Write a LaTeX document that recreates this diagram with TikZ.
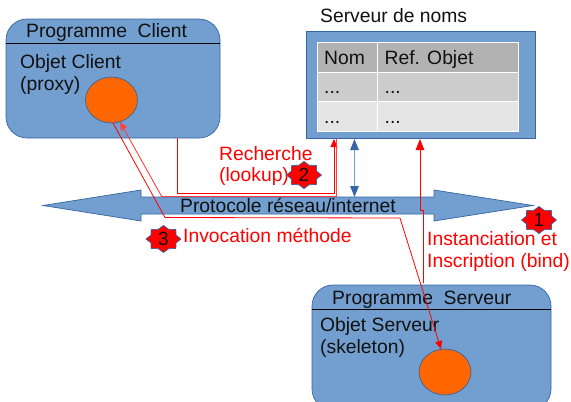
\documentclass[tikz,border=0pt]{standalone}
\usepackage{fontspec}
\setmainfont{Liberation Sans}
\usetikzlibrary{shapes.geometric,arrows.meta}
\definecolor{boxblue}{HTML}{729FCF}
\definecolor{edgeblue}{HTML}{3465A4}
\definecolor{blobor}{HTML}{FF6600}
\definecolor{textk}{HTML}{111111}
\newcommand{\burst}[4]{%
  \draw[draw=edgeblue,fill=red,line width=0.7pt]
    plot[samples at={0,22.5,...,337.5}] ({#1+(mod(\x,45)==0?17.5:13.5)*cos(\x)},{#2+(mod(\x,45)==0?13.5:10.5)*sin(\x)}) -- cycle;
  \node[badgetext] (#3) at (#1,#2) {#4};}
\tikzset{
  x=1pt,y=-1pt,
  prog/.style={draw=edgeblue,fill=boxblue,line width=0.7pt,rounded corners=21pt,inner sep=0pt},
  blob/.style={ellipse,draw=edgeblue,fill=blobor,line width=0.7pt,minimum width=52pt,minimum height=46pt,inner sep=0pt},
  lab/.style={font=\fontsize{19.3}{22}\selectfont,text=textk,anchor=base west,inner sep=0pt,align=left},
  redlab/.style={lab,text=red},
  redline/.style={draw=red,line width=0.8pt},
  palered/.style={draw=red!75!white,line width=0.9pt},
  tip/.style={-{Triangle[length=8pt,width=7pt]}},
  bigtip/.style={-{Triangle[length=11pt,width=8.5pt]}},
  bluetip/.style={{Triangle[length=11pt,width=8.5pt,color=edgeblue]}-{Triangle[length=11pt,width=8.5pt,color=edgeblue]}},
  cell/.style={draw=white,line width=0.9pt,minimum height=29.7pt,inner sep=0pt,anchor=north west},
  badgetext/.style={inner sep=0pt,font=\fontsize{19}{20}\selectfont,text=textk}
}
\begin{document}
\begin{tikzpicture}
\clip (0,0) rectangle (571,402);
% boxes
\node[prog,minimum width=214pt,minimum height=119pt] (client) at (113,78.5) {};
\node[prog,minimum width=239pt,minimum height=125pt] (server) at (431.5,347.5) {};
\node[draw=edgeblue,fill=boxblue,line width=0.7pt,minimum width=229.5pt,minimum height=106.5pt,inner sep=0pt] (names) at (420.75,85) {};
\draw[black,line width=0.7pt] (client.west |- 0,43.5) coordinate (cl) -- (client.east |- 0,43.5) coordinate (cr);
\draw[black,line width=0.7pt] (server.west |- 0,309.5) coordinate (sl) -- (server.east |- 0,309.5) coordinate (sr);
% table
\node[cell,fill=black!30,minimum width=60pt] (h1) at (316.5,42) {};
\node[cell,fill=black!30,minimum width=141pt] (h2) at (376.5,42) {};
\node[cell,fill=black!20,minimum width=60pt] (a1) at (316.5,71.7) {};
\node[cell,fill=black!20,minimum width=141pt] (a2) at (376.5,71.7) {};
\node[cell,fill=black!10,minimum width=60pt] (b1) at (316.5,101.4) {};
\node[cell,fill=black!10,minimum width=141pt] (b2) at (376.5,101.4) {};
% blobs
\node[blob] (cobj) at (111.5,100) {};
\node[blob] (sobj) at (445,372) {};
% network arrow
\draw[draw=edgeblue,fill=boxblue,line width=0.7pt] (43,205.5) -- (141,190) -- (141,197) -- (434,197) -- (434,190) -- (533,205.5) -- (434,221) -- (434,214) -- (141,214) -- (141,221) -- cycle;
\node[lab,anchor=base] (net) at (288,212) {Protocole réseau/internet};
% texts
\node[lab] (t1) at (26,37) {Programme\ \ Client};
\node[lab] (t2) at (20,68) {Objet Client};
\node[lab] (t3) at (20,90.5) {(proxy)};
\node[lab] (t4) at (320,22) {Serveur de noms};
\node[lab] at (324,64) {Nom};
\node[lab] at (384.5,64) {Ref. Objet};
\node[lab] at (324,93.5) {...};
\node[lab] at (384.5,93.5) {...};
\node[lab] at (324,123.5) {...};
\node[lab] at (384.5,123.5) {...};
\node[lab] (t5) at (332,304) {Programme\ \ Serveur};
\node[lab] (t6) at (320,331) {Objet Serveur};
\node[lab] (t7) at (320,353) {(skeleton)};
\node[redlab] (r2) at (219,160) {Recherche};
\node[redlab] (r2b) at (219,181.5) {(lookup)};
\node[redlab] (r3) at (183,242) {Invocation méthode};
\node[redlab] (r1) at (427,245.5) {Instanciation et};
\node[redlab] (r1b) at (427,267) {Inscription (bind)};
% connectors
\coordinate (a) at (177.5,138);
\coordinate (b) at (177.5,193);
\coordinate (c) at (334,193);
\coordinate (d) at (334,139);
\draw[redline,tip] (client.south -| a) -- (b) -- (c) -- (d);
\coordinate (e) at (336.5,138.5);
\coordinate (f) at (336.5,196.5);
\coordinate (g) at (161.7,196.5);
\coordinate (h) at (120,122);
\draw[palered,tip] (e) -- (f) -- (g) -- (h);
\coordinate (i) at (113,123);
\coordinate (j) at (165,217.5);
\coordinate (k) at (400,218);
\coordinate (l) at (441,349);
\draw[redline,tip] (i) -- (j) -- (k) -- (l);
\coordinate (m) at (423.5,283);
\coordinate (n) at (423.5,210);
\coordinate (o) at (420,210);
\coordinate (p) at (420,139);
\draw[redline,bigtip] (m) -- (n) -- (o) -- (p);
\coordinate (q) at (354.5,197);
\coordinate (s) at (354.5,139);
\draw[draw=boxblue,line width=1.2pt,bluetip] (q) -- (s);
% badges
\burst{539}{220}{n1}{1}
\burst{304}{175}{n2}{2}
\burst{163.5}{239}{n3}{3}
\end{tikzpicture}
\end{document}
